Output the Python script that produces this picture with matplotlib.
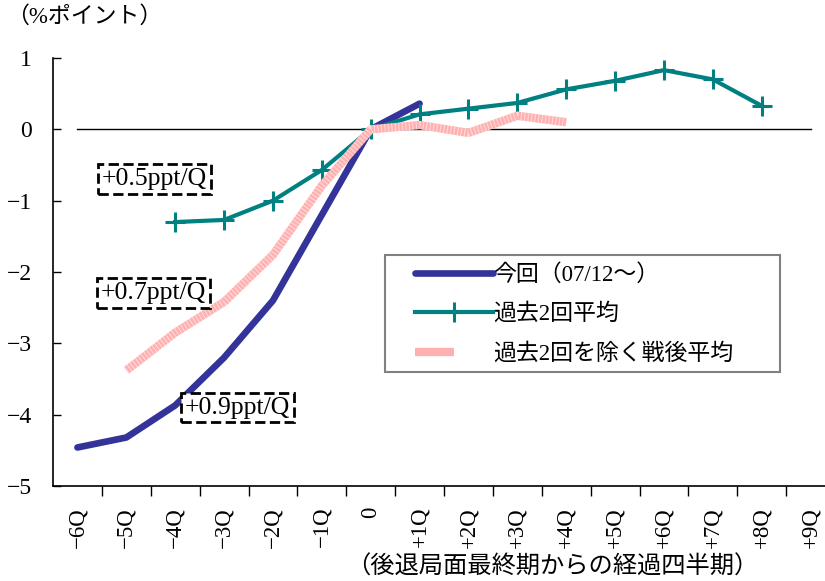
import matplotlib
matplotlib.use("Agg")
import matplotlib.pyplot as plt
from matplotlib.legend_handler import HandlerTuple
from matplotlib.patches import Rectangle

plt.rcParams['font.family'] = ['Liberation Serif', 'Noto Sans CJK JP']
plt.rcParams['axes.unicode_minus'] = True

# categories on the x axis
quarters = ['−6Q', '−5Q', '−4Q', '−3Q', '−2Q', '−1Q', '0', '+1Q', '+2Q',
            '+3Q', '+4Q', '+5Q', '+6Q', '+7Q', '+8Q', '+9Q']

# 今回 (07/12~): -6Q .. +1Q
current_q = ['−6Q', '−5Q', '−4Q', '−3Q', '−2Q', '−1Q', '0', '+1Q']
current_val = [-4.46, -4.32, -3.87, -3.20, -2.40, -1.20, 0.0, 0.36]

# 過去2回平均: -4Q .. +8Q
past2_q = ['−4Q', '−3Q', '−2Q', '−1Q', '0', '+1Q', '+2Q', '+3Q', '+4Q',
           '+5Q', '+6Q', '+7Q', '+8Q']
past2_val = [-1.30, -1.27, -1.00, -0.57, 0.0, 0.21, 0.29, 0.37, 0.56,
             0.68, 0.83, 0.70, 0.33]

# 過去2回を除く戦後平均: -5Q .. +4Q
postwar_q = ['−5Q', '−4Q', '−3Q', '−2Q', '−1Q', '0', '+1Q', '+2Q', '+3Q', '+4Q']
postwar_val = [-3.38, -2.85, -2.42, -1.76, -0.79, 0.0, 0.06, -0.05, 0.19, 0.10]

pos = {q: i for i, q in enumerate(quarters)}

fig = plt.figure(figsize=(8.25, 5.81), dpi=100)
ax = fig.add_axes([53 / 825, 1 - 486 / 581, 782 / 825, 428 / 581])

# zero line across all quarters
ax.plot(range(len(quarters)), [0] * len(quarters), color='black', lw=1, zorder=1)

blue, = ax.plot([pos[q] for q in current_q], current_val, color='#333399',
                lw=4.8, solid_capstyle='round', solid_joinstyle='round', zorder=3)
teal, = ax.plot([pos[q] for q in past2_q], past2_val, color='#008080', lw=3,
                marker='+', markersize=15, markeredgewidth=2.2, zorder=4)
px = [pos[q] for q in postwar_q]
pink, = ax.plot(px, postwar_val, color='#ffb0b0', lw=6,
                solid_capstyle='butt', zorder=5)
stripe, = ax.plot(px, postwar_val, color='white', lw=6, alpha=0.55,
                  dashes=(0.12, 0.3), dash_capstyle='butt', zorder=6)

ax.set_xlim(-0.5, len(quarters) - 0.5)
ax.set_ylim(-5, 1)
ax.set_yticks(range(-5, 2))
ax.set_yticklabels(['−5', '−4', '−3', '−2', '−1', '0', '1'])
ax.set_xticks(range(len(quarters)))
ax.set_xticklabels(quarters, rotation=90)
ax.set_xticks([i + 0.5 for i in range(len(quarters))], minor=True)
ax.tick_params(axis='x', which='major', length=0, pad=15, labelsize=16.5)
ax.tick_params(axis='x', which='minor', direction='out', length=7, width=1)
ax.tick_params(axis='y', direction='in', length=6, width=1, pad=15, labelsize=17)

for s in ['top', 'right']:
    ax.spines[s].set_visible(False)
ax.spines['left'].set_linewidth(1.2)
ax.spines['bottom'].set_linewidth(1.2)

box = dict(boxstyle='square,pad=0.15', facecolor='white', edgecolor='black',
           linestyle='--', linewidth=2)
ax.text(1.57, -0.70, '+0.5ppt/Q', fontsize=18.5, ha='center', va='center', bbox=box, zorder=7)
ax.text(1.56, -2.29, '+0.7ppt/Q', fontsize=18.5, ha='center', va='center', bbox=box, zorder=7)
ax.text(3.27, -3.90, '+0.9ppt/Q', fontsize=18.5, ha='center', va='center', bbox=box, zorder=7)

# legend frame drawn separately so the entries can sit inset like the original
ax.add_patch(Rectangle((0.4246, 0.2664), 0.5051, 0.2734, transform=ax.transAxes,
                       facecolor='white', edgecolor='#808080', lw=1.5, zorder=8))
leg = ax.legend([blue, teal, (pink, stripe)],
                ['今回（07/12～）', '過去2回平均', '過去2回を除く戦後平均'],
                handler_map={tuple: HandlerTuple(ndivide=None, pad=0)},
                loc='upper left', bbox_to_anchor=(0.4629, 0.519),
                fontsize=16.5, handlelength=3.4, handletextpad=0.0,
                labelspacing=0.78, borderpad=0, borderaxespad=0, frameon=False)
leg.set_zorder(9)

fig.text(6 / 825, 1 - 6 / 581, '（%ポイント）', fontsize=16.5, ha='left', va='top')
fig.text(552 / 825, 1 - 567 / 581, '（後退局面最終期からの経過四半期）', fontsize=17.5,
         ha='center', va='center')

fig.savefig('out.png', dpi=100)
